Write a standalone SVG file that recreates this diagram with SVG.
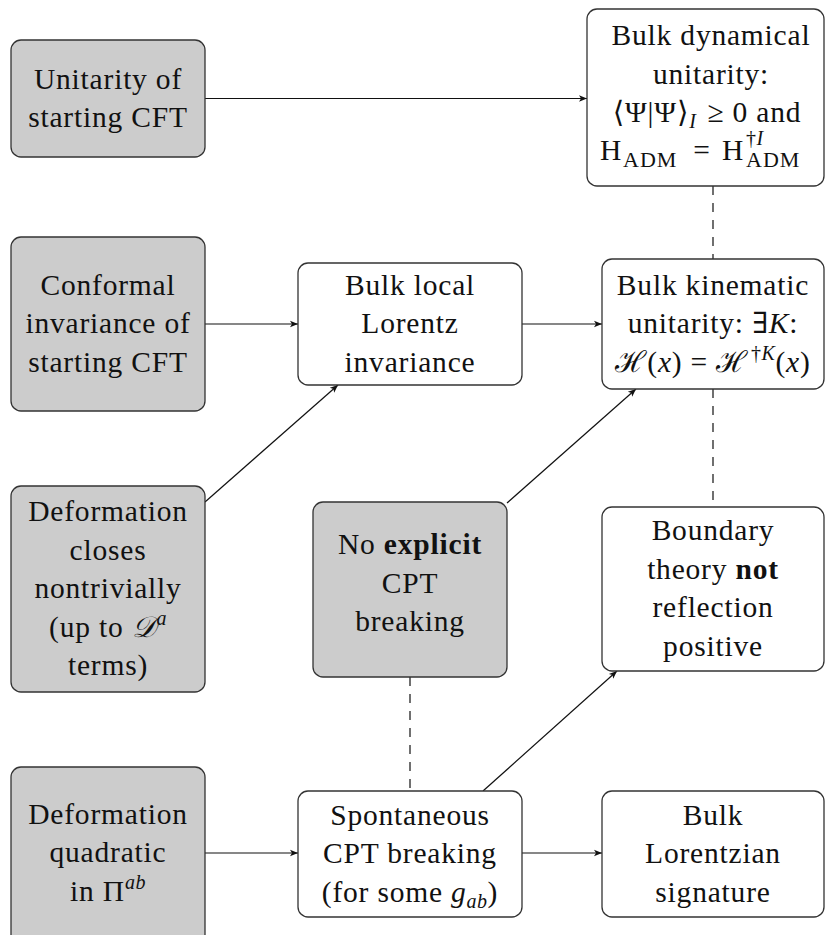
<svg xmlns="http://www.w3.org/2000/svg" width="828" height="935" viewBox="0 0 828 935">
<defs>
<style>
.gray{fill:#cccccc;stroke:#333333;stroke-width:1.3}
.white{fill:#ffffff;stroke:#333333;stroke-width:1.3}
text{font-family:"Liberation Serif","DejaVu Serif",serif;font-size:29.5px;letter-spacing:0.8px;fill:#111111;text-anchor:middle}
.l{text-anchor:start}
.it{font-style:italic}
.b{font-weight:bold}
.sm{font-size:20px;letter-spacing:0.5px}
.sub{font-size:22px;letter-spacing:1px}
.con{stroke:#111111;stroke-width:1.2;fill:none}
.arr{marker-end:url(#ah)}
.dash{stroke-dasharray:9 8}
</style>
<marker id="ah" viewBox="-9 -4 10 8" refX="0" refY="0" markerWidth="10" markerHeight="8" orient="auto" markerUnits="userSpaceOnUse">
<path d="M0,0 L-8,-3.3 L-6,0 L-8,3.3 Z" fill="#111111"/>
</marker>
</defs>
<rect width="828" height="935" fill="#ffffff"/>

<g id="connectors">
<line class="con arr" x1="205" y1="98.5" x2="587" y2="98.5"/>
<line class="con arr" x1="205" y1="324" x2="298" y2="324"/>
<line class="con arr" x1="522" y1="324" x2="602" y2="324"/>
<line class="con arr" x1="205" y1="502" x2="338" y2="385"/>
<line class="con arr" x1="507" y1="503" x2="636" y2="389"/>
<line class="con arr" x1="483" y1="791" x2="617" y2="671"/>
<line class="con arr" x1="205" y1="853" x2="298" y2="853"/>
<line class="con arr" x1="522" y1="853" x2="602" y2="853"/>
<line class="con dash" x1="713" y1="186" x2="713" y2="259"/>
<line class="con dash" x1="713" y1="389" x2="713" y2="507"/>
<line class="con dash" x1="410" y1="677" x2="410" y2="791"/>
</g>

<g id="nodes">
<g id="unitarity-cft">
<rect class="gray" x="11" y="40" width="194" height="117" rx="10"/>
<text x="108" y="89">Unitarity of</text>
<text x="108" y="127">starting CFT</text>
</g>

<g id="bulk-dynamical-unitarity">
<rect class="white" x="587" y="9" width="237" height="177" rx="10"/>
<text x="711" y="45">Bulk dynamical</text>
<text x="711" y="83.5">unitarity:</text>
<text x="707" y="122">⟨Ψ|Ψ⟩<tspan class="sm it" dy="6">I</tspan><tspan dy="-6" dx="11">≥ 0 and</tspan></text>
<text class="l" x="600" y="160">H</text>
<text class="l sub" x="623" y="167">ADM</text>
<text x="702" y="160">=</text>
<text class="l" x="722" y="160">H</text>
<text class="l sm" x="746" y="145">†<tspan class="it">I</tspan></text>
<text class="l sub" x="746" y="167">ADM</text>
</g>

<g id="conformal-invariance">
<rect class="gray" x="11" y="237" width="194" height="174" rx="10"/>
<text x="108" y="294.5">Conformal</text>
<text x="108" y="333">invariance of</text>
<text x="108" y="371.5">starting CFT</text>
</g>

<g id="bulk-local-lorentz">
<rect class="white" x="298" y="263" width="224" height="122" rx="10"/>
<text x="410" y="294.5">Bulk local</text>
<text x="410" y="333">Lorentz</text>
<text x="410" y="371.5">invariance</text>
</g>

<g id="bulk-kinematic-unitarity">
<rect class="white" x="602" y="259" width="222" height="130" rx="10"/>
<text x="713" y="294.5">Bulk kinematic</text>
<text x="713" y="333">unitarity:  ∃<tspan class="it">K</tspan>:</text>
<text x="713" y="371.5">ℋ(<tspan class="it">x</tspan>) = ℋ<tspan class="sm" dx="3" dy="-12">†</tspan><tspan class="sm it">K</tspan><tspan dy="12">(</tspan><tspan class="it">x</tspan>)</text>
</g>

<g id="deformation-closes">
<rect class="gray" x="11" y="486" width="194" height="206" rx="10"/>
<text x="108" y="521">Deformation</text>
<text x="108" y="559.5">closes</text>
<text x="108" y="598">nontrivially</text>
<text x="108" y="636.5">(up to <tspan class="it">𝒟</tspan><tspan class="sm it" dy="-12">a</tspan></text>
<text x="108" y="675">terms)</text>
</g>

<g id="no-explicit-cpt">
<rect class="gray" x="313" y="502" width="194" height="175" rx="10"/>
<text x="410" y="554">No <tspan class="b">explicit</tspan></text>
<text x="410" y="592.5">CPT</text>
<text x="410" y="631">breaking</text>
</g>

<g id="boundary-not-rp">
<rect class="white" x="602" y="507" width="222" height="164" rx="10"/>
<text x="713" y="540">Boundary</text>
<text x="713" y="578.5">theory <tspan class="b">not</tspan></text>
<text x="713" y="617">reflection</text>
<text x="713" y="655.5">positive</text>
</g>

<g id="deformation-quadratic">
<rect class="gray" x="11" y="767" width="194" height="180" rx="10"/>
<text x="108" y="823.5">Deformation</text>
<text x="108" y="862">quadratic</text>
<text x="108" y="900.5">in Π<tspan class="sm it" dy="-12">ab</tspan></text>
</g>

<g id="spontaneous-cpt">
<rect class="white" x="298" y="791" width="224" height="126" rx="10"/>
<text x="410" y="824.5">Spontaneous</text>
<text x="410" y="863">CPT breaking</text>
<text x="410" y="901.5">(for some <tspan class="it">g</tspan><tspan class="sm it" dy="6">ab</tspan><tspan dy="-6">)</tspan></text>
</g>

<g id="bulk-lorentzian">
<rect class="white" x="602" y="791" width="222" height="126" rx="10"/>
<text x="713" y="824.5">Bulk</text>
<text x="713" y="863">Lorentzian</text>
<text x="713" y="901.5">signature</text>
</g>
</g>
</svg>
